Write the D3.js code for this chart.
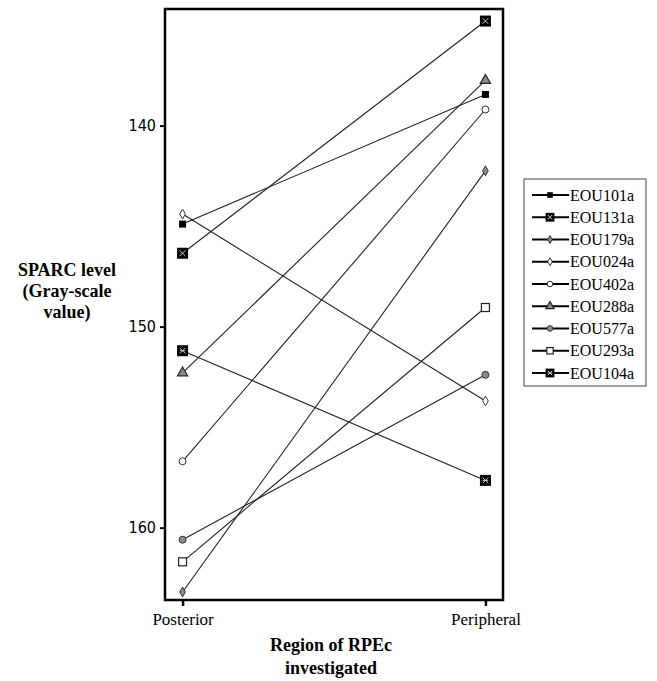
<!DOCTYPE html>
<html>
<head>
<meta charset="utf-8">
<script src="https://cdn.jsdelivr.net/npm/d3@7"></script>
<style>
  body { margin: 0; background: #fff; }
  svg { display: block; }
</style>
</head>
<body>
<svg id="chart" width="657" height="681"></svg>
<script>
// data (y axis runs downward: 140 at top)
const regions = ['Posterior', 'Peripheral']
const samples = ['EOU101a', 'EOU131a', 'EOU179a', 'EOU024a', 'EOU402a', 'EOU288a', 'EOU577a', 'EOU293a', 'EOU104a']
const posterior = [144.9, 146.35, 163.2, 144.4, 156.7, 152.3, 160.6, 161.7, 151.2]
const peripheral = [138.45, 134.8, 142.25, 153.7, 139.2, 137.75, 152.4, 149.05, 157.65]
const markers = ['fsquare', 'xsquare', 'gdiamond', 'odiamond', 'ocircle', 'triangle', 'gcircle', 'osquare', 'asquare']
const yTicks = [140, 150, 160]

const SERIF = '"Liberation Serif", "DejaVu Serif", "Times New Roman", Times, serif'
const NARROW = '"Liberation Sans Narrow", "Arial Narrow", "DejaVu Sans Condensed", "Liberation Sans", sans-serif'

const svg = d3.select('#chart')
const box = { left: 165, right: 503, top: 9, bottom: 600 }

const x = d3.scalePoint().domain(regions).range([box.left, box.right]).padding(0.058)
const y = d3.scaleLinear().domain([134.2, 163.6]).range([box.top, box.bottom])

// draw one marker at the current origin of group g
function drawMarker(g, type, s) {
  s = s || 1
  if (type === 'fsquare') {
    g.append('rect').attr('x', -3.5 * s).attr('y', -3.5 * s).attr('width', 7 * s).attr('height', 7 * s).attr('fill', '#000')
  } else if (type === 'xsquare' || type === 'asquare') {
    g.append('rect').attr('x', -5.5 * s).attr('y', -5.5 * s).attr('width', 11 * s).attr('height', 11 * s).attr('fill', '#000')
    const r = 2.8 * s
    g.append('path')
      .attr('d', `M${-r},${-r}L${r},${r}M${-r},${r}L${r},${-r}` + (type === 'asquare' ? `M${-r},0L${r},0` : ''))
      .attr('stroke', '#ccc').attr('stroke-width', 1).attr('fill', 'none')
  } else if (type === 'gdiamond' || type === 'odiamond') {
    g.append('path').attr('d', d3.symbol(d3.symbolDiamond, 28 * s * s)())
      .attr('fill', type === 'gdiamond' ? '#8a8a8a' : '#fff').attr('stroke', '#333').attr('stroke-width', 1)
  } else if (type === 'ocircle' || type === 'gcircle') {
    g.append('circle').attr('r', 3.5 * s)
      .attr('fill', type === 'gcircle' ? '#8a8a8a' : '#fff').attr('stroke', '#333').attr('stroke-width', 1)
  } else if (type === 'triangle') {
    g.append('path').attr('d', d3.symbol(d3.symbolTriangle, 45 * s * s)())
      .attr('fill', '#8a8a8a').attr('stroke', '#222').attr('stroke-width', 1.2)
  } else if (type === 'osquare') {
    g.append('rect').attr('x', -4 * s).attr('y', -4 * s).attr('width', 8 * s).attr('height', 8 * s)
      .attr('fill', '#fff').attr('stroke', '#222').attr('stroke-width', 1.2)
  }
}

const series = samples.map((name, i) => ({
  name: name,
  marker: markers[i],
  values: [
    { region: regions[0], v: posterior[i] },
    { region: regions[1], v: peripheral[i] }
  ]
}))

// lines
const line = d3.line().x((d) => x(d.region)).y((d) => y(d.v))
svg.append('g').selectAll('path')
  .data(series)
  .enter()
  .append('path')
  .attr('d', (d) => line(d.values))
  .attr('fill', 'none')
  .attr('stroke', '#222')
  .attr('stroke-width', 1.1)

// markers
series.forEach((s) => {
  s.values.forEach((p) => {
    const g = svg.append('g').attr('transform', `translate(${x(p.region)},${y(p.v)})`)
    drawMarker(g, s.marker, 1)
  })
})

// frame
svg.append('rect')
  .attr('x', box.left).attr('y', box.top)
  .attr('width', box.right - box.left).attr('height', box.bottom - box.top)
  .attr('fill', 'none').attr('stroke', '#000').attr('stroke-width', 2.5)

// y axis
const yAxis = svg.append('g')
  .attr('transform', `translate(${box.left},0)`)
  .call(d3.axisLeft(y).tickValues(yTicks).tickSize(5).tickPadding(4).tickFormat(d3.format('d')))
yAxis.attr('font-family', NARROW).attr('font-size', 16)
yAxis.select('.domain').remove()
yAxis.selectAll('line').attr('stroke', '#000').attr('stroke-width', 2)
yAxis.selectAll('text').attr('fill', '#000')

// x axis
const xAxis = svg.append('g')
  .attr('transform', `translate(0,${box.bottom})`)
  .call(d3.axisBottom(x).tickSize(6).tickPadding(7))
xAxis.attr('font-family', SERIF).attr('font-size', 17)
xAxis.select('.domain').remove()
xAxis.selectAll('line').attr('stroke', '#000').attr('stroke-width', 2.5)
xAxis.selectAll('text').attr('fill', '#000')

// axis titles
const yTitle = svg.append('text')
  .attr('font-family', SERIF).attr('font-size', 18).attr('font-weight', 'bold')
  .attr('text-anchor', 'middle')
;['SPARC level', '(Gray-scale', 'value)'].forEach((t, i) => {
  yTitle.append('tspan').attr('x', 67).attr('y', 276 + i * 21).text(t)
})

const xTitle = svg.append('text')
  .attr('font-family', SERIF).attr('font-size', 18).attr('font-weight', 'bold')
  .attr('text-anchor', 'middle')
;['Region of RPEc', 'investigated'].forEach((t, i) => {
  xTitle.append('tspan').attr('x', 331).attr('y', 651 + i * 23).text(t)
})

// legend
const legend = svg.append('g')
legend.append('rect')
  .attr('x', 524).attr('y', 179).attr('width', 122).attr('height', 207)
  .attr('fill', '#fff').attr('stroke', '#444').attr('stroke-width', 1)

const ly = d3.scalePoint().domain(samples).range([195, 373])
series.forEach((s) => {
  const row = legend.append('g').attr('transform', `translate(0,${ly(s.name)})`)
  row.append('line').attr('x1', 532).attr('x2', 569).attr('y1', 0).attr('y2', 0)
    .attr('stroke', '#000').attr('stroke-width', 2)
  const m = row.append('g').attr('transform', 'translate(550,0)')
  drawMarker(m, s.marker, 0.8)
  row.append('text')
    .attr('font-family', SERIF).attr('font-size', 16)
    .attr('x', 570).attr('y', 5.5)
    .text(s.name)
})
</script>
</body>
</html>
